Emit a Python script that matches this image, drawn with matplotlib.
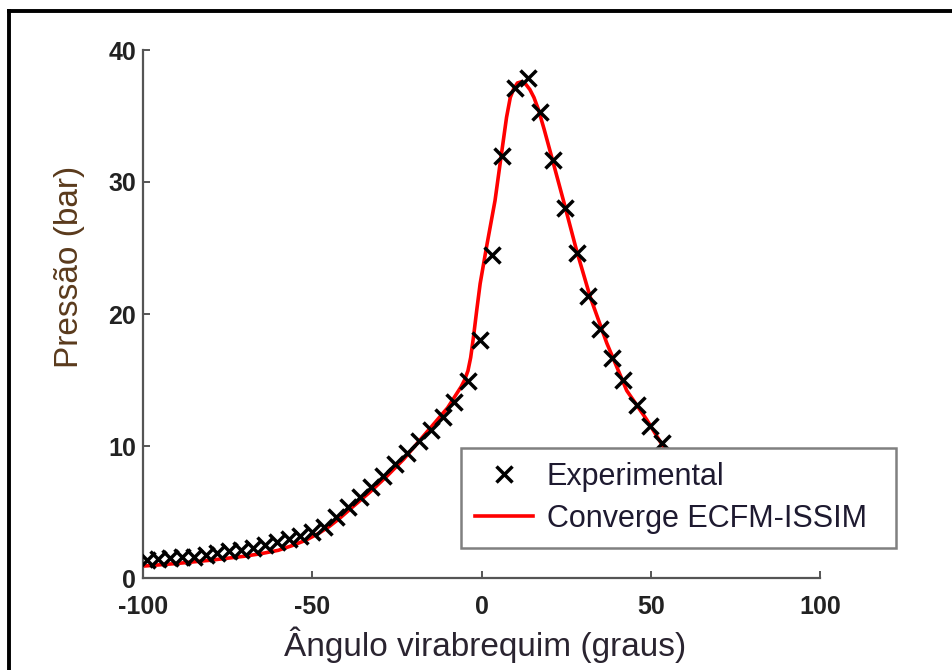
import matplotlib
matplotlib.use('Agg')
from matplotlib import pyplot as plt
from matplotlib import font_manager
from matplotlib.lines import Line2D

# 字体
names = {f.name for f in font_manager.fontManager.ttflist}
if 'Liberation Sans Narrow' in names:
    tick_font, tick_size = 'Liberation Sans Narrow', 21.5
else:
    tick_font, tick_size = 'Liberation Sans', 18
plt.rcParams['font.family'] = ['Liberation Sans', 'DejaVu Sans']
plt.rcParams['axes.unicode_minus'] = False

exp_angle = [-98.9, -95.5, -92.0, -88.5, -85.0, -81.5, -78.0, -74.5, -71.0, -67.5,
             -64.0, -60.5, -57.0, -53.5, -50.0, -46.5, -43.0, -39.5, -36.0, -32.5,
             -29.0, -25.5, -22.0, -18.5, -15.0, -11.5, -8.0, -4.0, -0.3, 3.0,
             6.0, 9.9, 13.8, 17.3, 21.2, 24.7, 28.1, 31.6, 35.0, 38.5,
             41.9, 45.8, 49.8, 53.2, 57.0, 60.5, 64.0]
exp_pressure = [1.35, 1.45, 1.5, 1.57, 1.62, 1.72, 1.88, 2.02, 2.15, 2.3,
                2.5, 2.7, 2.95, 3.2, 3.5, 3.9, 4.6, 5.35, 6.15, 6.9,
                7.75, 8.6, 9.45, 10.35, 11.2, 12.2, 13.3, 14.9, 18.0, 24.5,
                32.0, 37.1, 37.9, 35.3, 31.7, 28.0, 24.6, 21.4, 18.9, 16.7,
                15.0, 13.1, 11.5, 10.2, 9.2, 8.3, 7.5]

# simulacao Converge ECFM-ISSIM
sim_angle = [-100, -90, -80, -70, -65, -60, -56, -52, -48, -45, -42, -38, -33, -28, -23,
             -18, -13, -10, -8, -6, -5, -4, -3.2, -2.4, -1.4, -0.4, 1.5, 4.0, 5.5,
             7.4, 8.5, 9.4, 10.6, 11.9, 13.1, 14.3, 15.5, 16.8, 18.5, 20.2, 24.2,
             28.1, 32.1, 37.0, 42.9, 48.8, 53.7, 58.0, 62.0, 66.0]
sim_pressure = [0.9, 1.1, 1.35, 1.65, 1.85, 2.1, 2.45, 2.85, 3.4, 3.9, 4.5, 5.4, 6.5, 7.7, 9.0,
                10.5, 12.0, 12.9, 13.7, 14.5, 15.0, 15.7, 16.7, 18.2, 20.3, 22.3, 25.1, 28.6,
                31.4, 34.9, 36.4, 37.0, 37.5, 37.6, 37.4, 37.0, 36.4, 35.5, 34.0, 32.4, 28.6,
                24.8, 21.3, 17.8, 14.2, 12.0, 9.95, 8.8, 7.9, 7.1]

x_ticks = [-100, -50, 0, 50, 100]
y_ticks = [0, 10, 20, 30, 40]

fig = plt.figure(figsize=(9.52, 6.70), dpi=100)
ax = fig.add_axes([143/952, 92/670, 677/952, 528/670])

ax.plot(exp_angle, exp_pressure, 'x', color='black', markersize=11.5, mew=2.5,
        label='Experimental', zorder=3)
ax.plot(sim_angle, sim_pressure, '-', color='#ff0000', lw=2.6,
        label='Converge ECFM-ISSIM', zorder=2)

ax.set_xlim(-100, 100)
ax.set_ylim(0, 40)
ax.set_xticks(x_ticks)
ax.set_yticks(y_ticks)
for s in ['top', 'right']:
    ax.spines[s].set_visible(False)
for s in ['left', 'bottom']:
    ax.spines[s].set_color('#555555')
    ax.spines[s].set_linewidth(1.6)
ax.tick_params(direction='in', length=5, width=1.4, color='#555555')
ax.tick_params(axis='x', pad=12)
ax.tick_params(axis='y', pad=5)
for lab in ax.get_xticklabels() + ax.get_yticklabels():
    lab.set_fontfamily(tick_font)
    lab.set_fontweight('bold')
    lab.set_fontsize(tick_size)
    lab.set_color('#222222')

ax.set_xlabel('Ângulo virabrequim (graus)', fontsize=24, color='#2a2430', va='center')
ax.xaxis.set_label_coords(0.505, -0.127)
ax.set_ylabel('Pressão (bar)', fontsize=24, color='#5a3a1c', va='center')
ax.yaxis.set_label_coords(-0.109, 0.589)

leg = ax.legend(loc='upper left',
                bbox_to_anchor=(461/952, 1 - 547/670, 435/952, 99/670),
                bbox_transform=fig.transFigure, mode='expand', borderaxespad=0,
                fontsize=22, fancybox=False, framealpha=1, edgecolor='#808080',
                handlelength=1.9, handletextpad=0.45, borderpad=0.45,
                labelspacing=0.4)
leg.get_frame().set_linewidth(1.8)
for t in leg.get_texts():
    t.set_color('#1e1a30')

# moldura externa
ytop = 1 - 11/670
xl = 9/952
fig.add_artist(Line2D([xl, xl], [0, ytop], color='black', lw=2.8, transform=fig.transFigure))
fig.add_artist(Line2D([xl, 1], [ytop, ytop], color='black', lw=2.8, transform=fig.transFigure))

plt.savefig('out.png', dpi=100)
